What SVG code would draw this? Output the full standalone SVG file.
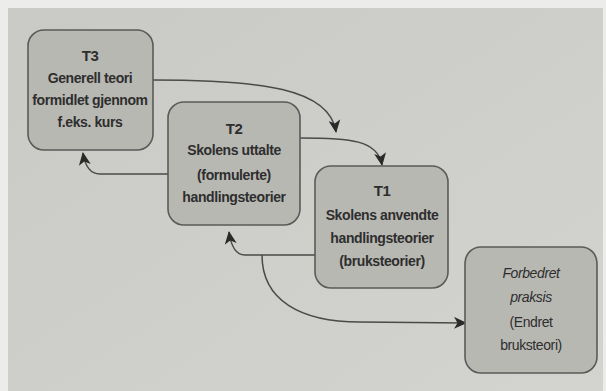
<svg xmlns="http://www.w3.org/2000/svg" width="606" height="391" viewBox="0 0 606 391">
<defs>
<style>
.box{fill:#b8b8b3;stroke:#5a5a58;stroke-width:1.6}
.t{font-family:"Liberation Sans",Arial,sans-serif;font-size:14px;fill:#2e2e2e;text-anchor:middle;letter-spacing:-0.4px}
.b{font-weight:bold}
.i{font-style:italic}
.h{font-size:15px}
.c{fill:none;stroke:#4a4a48;stroke-width:1.5}
</style>
<marker id="ah" viewBox="0 0 13 12" refX="12" refY="6" markerWidth="13" markerHeight="12" markerUnits="userSpaceOnUse" orient="auto">
<path d="M0,0 L13,6 L0,12 L3.5,6 Z" fill="#2a2a2a"/>
</marker>
<linearGradient id="bg" x1="0" y1="0" x2="1" y2="1">
<stop offset="0" stop-color="#c9c9c5"/>
<stop offset="1" stop-color="#d3d3cf"/>
</linearGradient>
</defs>
<rect x="0" y="0" width="606" height="391" fill="#ececea"/>
<rect x="8" y="8" width="595" height="383" fill="url(#bg)"/>
<g id="connectors">
<path class="c" d="M153,80 C260,80 330,88 336,132" marker-end="url(#ah)"/>
<path class="c" d="M300,138 C350,138 378,140 382,165" marker-end="url(#ah)"/>
<path class="c" d="M168,174 L100,174 C90,174 85,166 83,153" marker-end="url(#ah)"/>
<path class="c" d="M315,255 L245,255 C236,255 231,246 229,232" marker-end="url(#ah)"/>
<path class="c" d="M262,255 C262,300 300,322 360,322 L466,323" marker-end="url(#ah)"/>
</g>
<g id="T3">
<rect class="box" x="28" y="30" width="125" height="120" rx="16"/>
<text class="t b h" x="90" y="61">T3</text>
<text class="t b" x="90" y="83">Generell teori</text>
<text class="t b" x="90" y="105">formidlet gjennom</text>
<text class="t b" x="90" y="127">f.eks. kurs</text>
</g>
<g id="T2">
<rect class="box" x="168" y="102" width="132" height="123" rx="16"/>
<text class="t b h" x="234" y="134">T2</text>
<text class="t b" x="234" y="155">Skolens uttalte</text>
<text class="t b" x="234" y="180">(formulerte)</text>
<text class="t b" x="234" y="202">handlingsteorier</text>
</g>
<g id="T1">
<rect class="box" x="315" y="166" width="133" height="122" rx="16"/>
<text class="t b h" x="382" y="196">T1</text>
<text class="t b" x="382" y="220">Skolens anvendte</text>
<text class="t b" x="382" y="243">handlingsteorier</text>
<text class="t b" x="382" y="266">(bruksteorier)</text>
</g>
<g id="forbedret">
<rect class="box" x="465" y="247" width="132" height="126" rx="16"/>
<text class="t i" x="531" y="278">Forbedret</text>
<text class="t i" x="531" y="302">praksis</text>
<text class="t" x="531" y="327">(Endret</text>
<text class="t" x="531" y="350">bruksteori)</text>
</g>
</svg>
